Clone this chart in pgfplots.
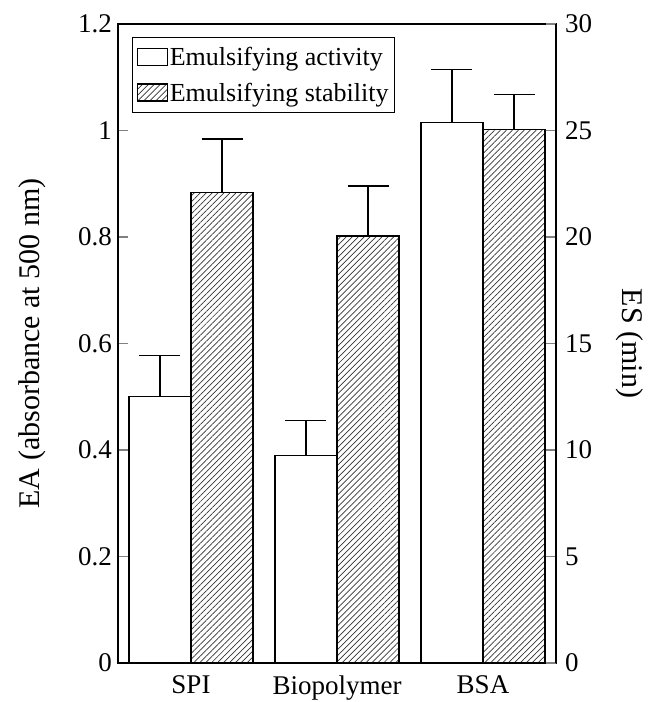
\documentclass[border=0pt]{standalone}
\usepackage{fontspec}
\setmainfont{Liberation Serif}
\usepackage{pgfplots}
\pgfplotsset{compat=1.18}
\usetikzlibrary{patterns.meta}

\tikzset{hatch/.style={pattern={Lines[angle=45,distance=4.2pt,line width=0.7pt]}, pattern color=black!80}}

\pgfplotsset{
  common/.style={
    scale only axis, width=438pt, height=639pt,
    xmin=-0.5, xmax=2.5, ymin=0,
    tick align=inside, major tick length=10pt,
    axis line style={line width=1.4pt},
    ytick style={line width=1.2pt},
    /pgf/number format/assume math mode=true,
    tick label style={font=\fontsize{27}{30}\selectfont},
    label style={font=\fontsize{30}{33}\selectfont},
  },
  ebar/.style={/pgfplots/error bars/.cd, y dir=plus, y explicit,
    error bar style={line width=1.4pt, black},
    error mark options={rotate=90, line width=1.4pt, mark size=20.5pt, black}, /pgfplots/.cd},
}

\begin{document}
\begin{tikzpicture}
\begin{axis}[common,
  ymax=1.2, ytick={0,0.2,0.4,0.6,0.8,1,1.2},
  ytick pos=left,
  xtick={0,1,2}, xticklabels={SPI,Biopolymer,BSA},
  xtick style={draw=none},
  xticklabel style={yshift=-9pt},
  yticklabel style={inner sep=1pt, xshift=-5pt},
  ylabel={EA (absorbance at 500 nm)},
  ylabel style={at={(axis description cs:-0.196,0.5)}, anchor=center},
]
\addplot[ybar, bar width=62pt, bar shift=0pt, fill=white, draw=black, line width=1.4pt, ebar]
  coordinates {(-0.2125,0.50) +- (0,0.078) (0.7875,0.39) +- (0,0.065) (1.7875,1.015) +- (0,0.100)};
\coordinate (bl) at (rel axis cs:0,0);
\coordinate (tr) at (rel axis cs:1,1);
\end{axis}
\begin{axis}[common,
  ymax=30, ytick={0,5,10,15,20,25,30},
  axis x line=none, axis y line*=right,
  yticklabel style={inner sep=1pt, xshift=8pt},
  ylabel={ES (min)},
  ylabel style={at={(axis description cs:1.169,0.5)}, anchor=center, rotate=180},
  legend style={at={(0.032,0.98)}, anchor=north west, draw=black, line width=1pt,
    font=\fontsize{26}{28}\selectfont, inner xsep=4pt, inner ysep=8pt, row sep=12pt},
  legend cell align=left,
]
\addlegendimage{legend image code/.code={\draw[fill=white, draw=black, line width=1.3pt] (-2pt,-8pt) rectangle (28pt,9pt);}}
\addlegendentry{Emulsifying activity}
\addplot[ybar, bar width=62pt, bar shift=0pt, hatch, draw=black, line width=1.4pt,
  legend image code/.code={\draw[hatch, draw=black, line width=1.3pt] (-2pt,-8pt) rectangle (28pt,9pt);}, ebar]
  coordinates {(0.2125,22.1) +- (0,2.5) (1.2125,20.05) +- (0,2.35) (2.2125,25.05) +- (0,1.65)};
\addlegendentry{Emulsifying stability}
\end{axis}
\pgfresetboundingbox
\useasboundingbox ([shift={(-118pt,-39pt)}]bl) rectangle ([shift={(103pt,24pt)}]tr);
\end{tikzpicture}
\end{document}
